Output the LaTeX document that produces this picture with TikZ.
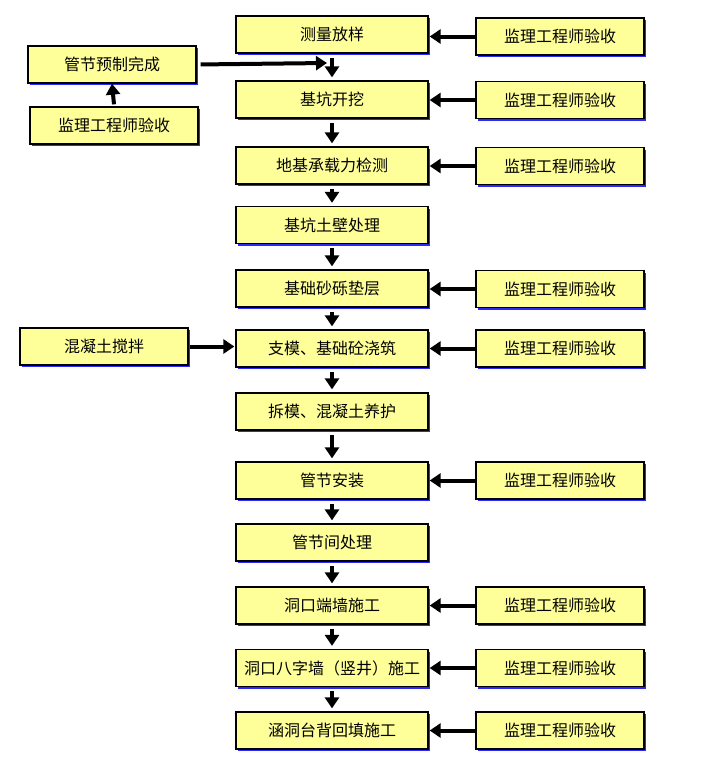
\documentclass[tikz,border=0pt]{standalone}
\usepackage{fontspec}
\setmainfont{Noto Sans CJK SC}
\usepackage{xcolor}
\usetikzlibrary{shapes,arrows.meta,positioning,shadows}
\definecolor{boxfill}{HTML}{FFFF99}
\definecolor{shadowblue}{HTML}{2A2AFF}
\tikzset{
  gongxu/.style={draw, line width=1.3pt, fill=boxfill, minimum width=192pt, minimum height=37pt,
    inner sep=0pt, font=\fontsize{16}{18}\selectfont,
    drop shadow={shadow xshift=2pt, shadow yshift=-2pt, fill=shadowblue, opacity=1}},
  yanshou/.style={gongxu, minimum width=168pt},
  jiantou/.style={line width=4pt, -{Triangle[length=11pt,width=14pt]}}
}
\begin{document}
\begin{tikzpicture}[x=1pt,y=-1pt]
  \useasboundingbox (0,0) rectangle (703,763);
  % 主流程
  \node[gongxu] (m1) at (332,34.5) {测量放样};
  \node[gongxu] (m2) at (332,99.5) {基坑开挖};
  \node[gongxu] (m3) at (332,165.5) {地基承载力检测};
  \node[gongxu] (m4) at (332,225) {基坑土壁处理};
  \node[gongxu] (m5) at (332,288.5) {基础砂砾垫层};
  \node[gongxu] (m6) at (332,348.5) {支模、基础砼浇筑};
  \node[gongxu] (m7) at (332,411.5) {拆模、混凝土养护};
  \node[gongxu] (m8) at (332,480.5) {管节安装};
  \node[gongxu] (m9) at (332,542.5) {管节间处理};
  \node[gongxu] (m10) at (332,605.5) {洞口端墙施工};
  \node[gongxu] (m11) at (332,668) {洞口八字墙（竖井）施工};
  \node[gongxu] (m12) at (332,730.5) {涵洞台背回填施工};

  % 右侧验收
  \node[yanshou] (y1) at (560,36.5) {监理工程师验收};
  \node[yanshou] (y2) at (560,100) {监理工程师验收};
  \node[yanshou] (y3) at (560,166) {监理工程师验收};
  \node[yanshou] (y5) at (560,289) {监理工程师验收};
  \node[yanshou] (y6) at (560,348.5) {监理工程师验收};
  \node[yanshou] (y8) at (560,480.5) {监理工程师验收};
  \node[yanshou] (y10) at (560,605.5) {监理工程师验收};
  \node[yanshou] (y11) at (560,668) {监理工程师验收};
  \node[yanshou] (y12) at (560,730.5) {监理工程师验收};

  % 左侧
  \node[yanshou] (guanjie) at (112,64.5) {管节预制完成};
  \node[yanshou] (zuoys) at (114,125.5) {监理工程师验收};
  \node[yanshou] (jiaoban) at (104,346.5) {混凝土搅拌};
  \coordinate (huiru) at (327,63);

  % 箭头
  \foreach \a/\b in {m1/m2,m2/m3,m3/m4,m4/m5,m5/m6,m6/m7,m7/m8,m8/m9,m9/m10,m10/m11,m11/m12}
    \draw[jiantou, shorten <=4pt, shorten >=3pt] (\a.south) -- (\b.north);
  \foreach \n in {1,2,3,5,6,8,10,11,12}
    \draw[jiantou, shorten >=1pt] (y\n.west) -- (y\n.west -| m\n.east);
  \draw[jiantou] (zuoys.north) ++(0,-2) -- (guanjie.south);
  \draw[jiantou, shorten <=4pt] (guanjie.east) -- (huiru);
  \draw[jiantou, shorten <=1pt, shorten >=1pt] (jiaoban.east) -- (jiaoban.east -| m6.west);
\end{tikzpicture}
\end{document}
